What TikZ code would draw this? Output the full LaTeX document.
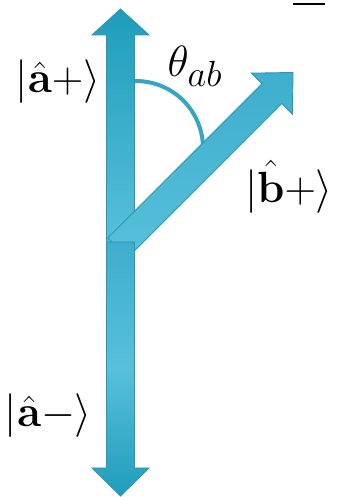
\documentclass[tikz,border=0pt]{standalone}
\usepackage{amsmath}
\usetikzlibrary{calc}
\definecolor{arrowmid}{HTML}{3DAECD}
\definecolor{arrowlight}{HTML}{58C0DB}
\definecolor{arrowdark}{HTML}{1E9DBB}
\definecolor{arrowedge}{HTML}{2C95B0}
\definecolor{arcteal}{HTML}{36A5C2}

\begin{document}
\begin{tikzpicture}[x=0.02cm,y=0.02cm,
  arrowbody/.style={draw=arrowedge,line width=0.5pt,line join=miter},
  anglearc/.style={draw=arcteal,line width=0.08cm},
  ketlabel/.style={font=\Huge,inner sep=0pt}]
  \useasboundingbox (0,0) rectangle (339,497);
  \coordinate (O) at (120.5,252);
  \coordinate (C) at (136,349);
  % angle between the two states
  \draw[anglearc] (C) ++(95:67) arc[start angle=95,end angle=0,radius=67];
  % |a+> arrow
  \shade[arrowbody,top color=arrowdark,bottom color=arrowlight]
    (106.5,252) -- (106.5,462) -- (92,462) -- (120.5,488) -- (149,462) -- (134.5,462) -- (134.5,252) -- cycle;
  % |b+> arrow
  \begin{scope}[shift={(O)},rotate=-45]
    \shade[arrowbody,top color=arrowmid,bottom color=arrowlight]
      (-14,-4) -- (-14,214) -- (-29,214) -- (0,244) -- (29,214) -- (14,214) -- (14,-4) -- cycle;
  \end{scope}
  % |a-> arrow
  \shade[arrowbody,top color=arrowmid,bottom color=arrowdark,middle color=arrowlight]
    (106.5,255) -- (106.5,29) -- (92,29) -- (120.5,1) -- (149,29) -- (134.5,29) -- (134.5,255) -- cycle;
  % labels
  \node[ketlabel] (aplus) at (58,415) {$|\hat{\mathbf{a}}+\rangle$};
  \node[ketlabel] (theta) at (195,431) {$\theta_{ab}$};
  \node[ketlabel] (bplus) at (289,310) {$|\hat{\mathbf{b}}+\rangle$};
  \node[ketlabel] (aminus) at (48.5,81) {$|\hat{\mathbf{a}}-\rangle$};
  \draw[line width=0.04cm] (293,493) -- (325,493);
\end{tikzpicture}
\end{document}
